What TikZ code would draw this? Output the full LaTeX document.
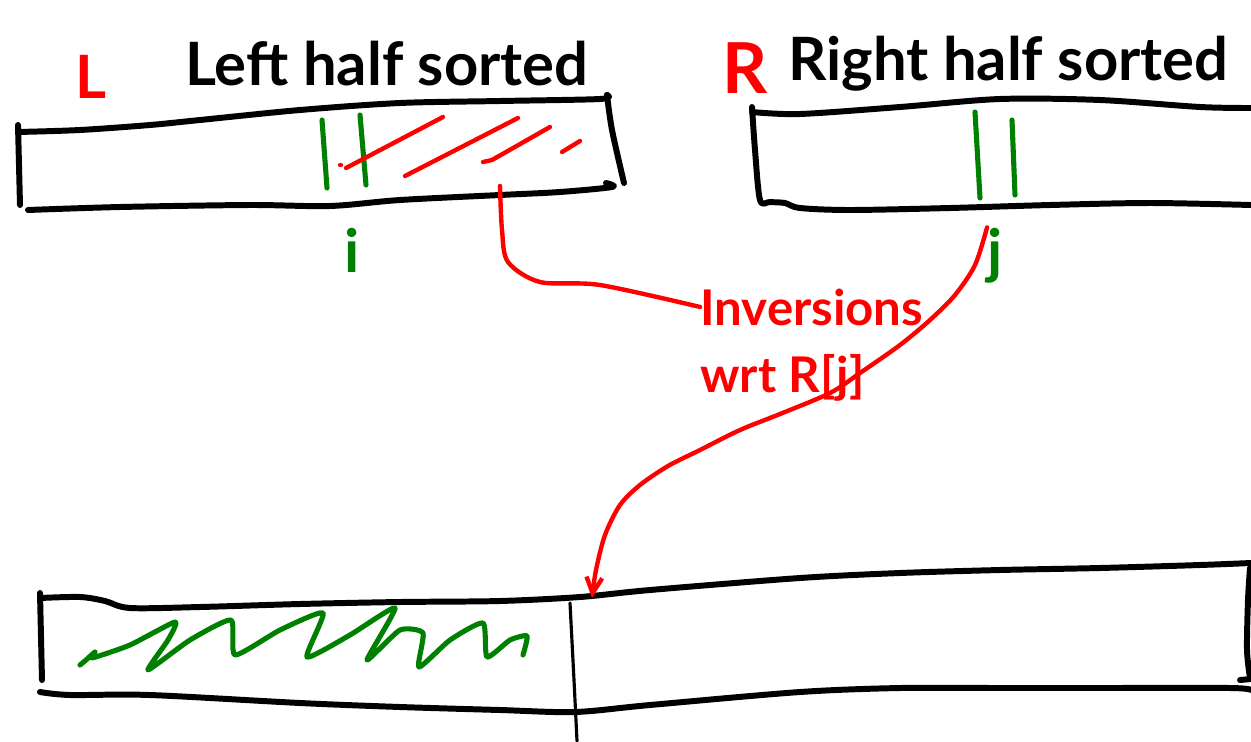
\documentclass[tikz,border=0pt]{standalone}
\usepackage{fontspec}
\setmainfont{Lato}
\usetikzlibrary{arrows.meta}
\definecolor{pred}{RGB}{255,0,0}
\definecolor{pgreen}{RGB}{0,128,0}
\tikzset{
  blk/.style={line width=3.4pt,line cap=round,line join=round,black},
  thin/.style={line width=1.8pt,line cap=round,black},
  grn/.style={line width=2.9pt,line cap=round,line join=round,pgreen},
  rd/.style={line width=2.5pt,line cap=round,line join=round,pred},
  lbl/.style={inner sep=0pt,font=\bfseries\fontsize{34}{40}\selectfont},
  redlbl/.style={inner sep=0pt,text=pred,font=\bfseries\fontsize{28}{32}\selectfont},
}
\begin{document}
\begin{tikzpicture}[x=0.02cm,y=-0.02cm]
\useasboundingbox (0,0) rectangle (1251,741);
% headers
\node[lbl,text=pred,anchor=base west] (Lname) at (75,98) {L};
\node[lbl,anchor=base west] (Ltitle) at (185,85) {Left half sorted};
\node[lbl,text=pred,anchor=base west,font=\bfseries\fontsize{40}{44}\selectfont] (Rname) at (722,93) {R};
\node[lbl,anchor=base west] (Rtitle) at (788,80) {Right half sorted};
% box L
\draw[blk] plot[smooth] coordinates {(18,132)(80,130)(150,125)(200,120)(300,110)(400,103)(500,101)(600,99)(607,95)};
\draw[blk] (18,125) -- (20,205);
\draw[blk] plot[smooth] coordinates {(607,95)(612,130)(624,183)};
\draw[blk] plot[smooth] coordinates {(28,210)(120,207)(250,205)(330,206)(400,200)(500,195)(560,192)(612,187)(606,183)};
\draw[grn] (322,120) -- (327,188);
\draw[grn] (360,115) -- (366,185);
\draw[rd] (340,165) -- (341,165);
\draw[rd] (346,168) -- (443,117);
\draw[rd] (405,176) -- (518,118);
\draw[rd] (483,162) -- (492,160) -- (550,127);
\draw[rd] (562,152) -- (580,141);
\coordinate (hatch) at (500,186);
\node[lbl,text=pgreen,anchor=base] (i) at (352,272) {i};
% box R
\draw[blk] plot[smooth] coordinates {(752,112)(800,114)(900,107)(1000,99)(1100,100)(1200,107)(1251,108)};
\draw[blk] plot[smooth] coordinates {(752,107)(755,150)(760,200)(770,202)(785,203)(800,208)(850,210)(950,208)(1050,205)(1150,203)(1251,205)};
\draw[grn] (975,112) -- (980,198);
\draw[grn] (1012,120) -- (1015,195);
\node[lbl,text=pgreen,anchor=base] (j) at (995,272) {j};
% inversions label
\node[redlbl,anchor=base west] (inv1) at (700,325) {Inversions};
\node[redlbl,anchor=base west] (inv2) at (700,392) {wrt R[j]};
\draw[rd] plot[smooth] coordinates {(hatch)(502,230)(508,262)(540,282)(600,285)(inv1.west)};
% bottom box
\draw[blk] plot[smooth] coordinates {(40,598)(80,597)(105,601)(130,608)(200,607)(300,604)(400,602)(500,601)(580,597)(650,590)(800,578)(900,573)(1000,570)(1100,568)(1200,565)(1251,563)};
\draw[blk] (40,593) -- (42,680);
\draw[blk] plot[smooth] coordinates {(40,692)(70,695)(150,695)(300,703)(400,707)(500,710)(575,712)(650,705)(800,692)(900,688)(1000,688)(1100,688)(1230,688)(1251,690)};
\draw[blk] plot[smooth] coordinates {(1250,568)(1248,600)(1247,650)(1250,678)};
\draw[blk] (1240,680) -- (1251,679);
\draw[thin] (570,603) -- (574,680) -- (577,741);
\coordinate (drop) at (592,598);
\draw[rd,-{Straight Barb[length=9pt,width=9pt]}] plot[smooth] coordinates {(j.north west)(975,265)(955,295)(930,320)(900,345)(860,373)(830,393)(780,414)(740,430)(700,450)(668,466)(640,485)(620,505)(605,535)(596,570)(drop)};
% green scribble
\draw[grn] plot[smooth,tension=0.35] coordinates {(80,665)(86,660)(95,652)(92,658)(130,645)(175,622)(168,640)(148,670)(190,640)(231,620)(235,655)(280,630)(323,613)(307,657)(350,635)(395,608)(367,660)(400,630)(423,633)(419,667)(450,640)(483,623)(487,657)(510,640)(527,636)(523,655)};
\end{tikzpicture}
\end{document}
